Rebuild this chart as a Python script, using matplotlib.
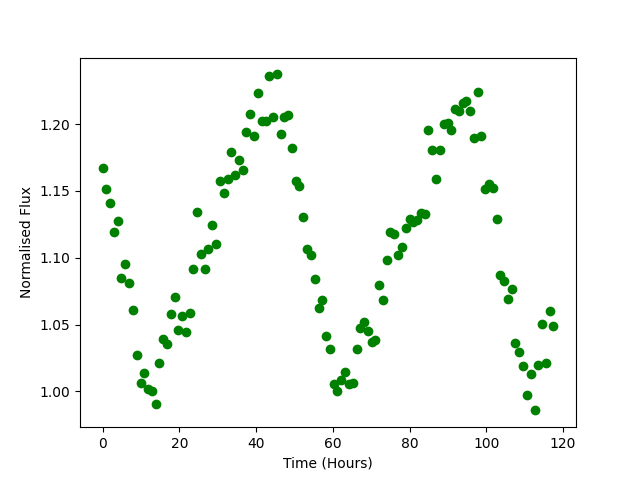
import matplotlib

matplotlib.use("Agg")
import matplotlib.pyplot as plt

# observation times in hours (roughly hourly cadence)
time_hours = [
    0.0, 1.0, 2.0, 3.0, 3.9, 4.9, 5.9, 6.9, 7.9, 8.9,
    9.9, 10.9, 11.8, 12.8, 13.8, 14.8, 15.8, 16.8, 17.8, 18.8,
    19.7, 20.7, 21.7, 22.7, 23.7, 24.7, 25.7, 26.7, 27.6, 28.6,
    29.6, 30.6, 31.6, 32.6, 33.6, 34.6, 35.5, 36.5, 37.5, 38.5,
    39.5, 40.5, 41.5, 42.5, 43.4, 44.4, 45.4, 46.4, 47.4, 48.4,
    49.4, 50.4, 51.3, 52.3, 53.3, 54.3, 55.3, 56.3, 57.3, 58.3,
    59.2, 60.2, 61.2, 62.2, 63.2, 64.2, 65.2, 66.2, 67.1, 68.1,
    69.1, 70.1, 71.1, 72.1, 73.1, 74.1, 75.0, 76.0, 77.0, 78.0,
    79.0, 80.0, 81.0, 82.0, 82.9, 83.9, 84.9, 85.9, 86.9, 87.9,
    88.9, 89.9, 90.8, 91.8, 92.8, 93.8, 94.8, 95.8, 96.8, 97.8,
    98.7, 99.7, 100.7, 101.7, 102.7, 103.7, 104.7, 105.7, 106.6, 107.6,
    108.6, 109.6, 110.6, 111.6, 112.6, 113.5, 114.5, 115.5, 116.5, 117.5,
]

flux = [
    1.1668, 1.1518, 1.1413, 1.1196, 1.1278, 1.0851, 1.0951, 1.0809, 1.0607, 1.0275,
    1.0065, 1.0140, 1.0020, 1.0003, 0.9908, 1.0215, 1.0392, 1.0357, 1.0582, 1.0709,
    1.0457, 1.0567, 1.0447, 1.0589, 1.0919, 1.1346, 1.1031, 1.0919, 1.1069, 1.1243,
    1.1101, 1.1571, 1.1488, 1.1588, 1.1788, 1.1616, 1.1735, 1.1660, 1.1938, 1.2072,
    1.1908, 1.2230, 1.2020, 1.2020, 1.2357, 1.2057, 1.2372, 1.1925, 1.2057, 1.2065,
    1.1818, 1.1573, 1.1538, 1.1308, 1.1064, 1.1024, 1.0844, 1.0627, 1.0682, 1.0417,
    1.0320, 1.0052, 1.0003, 1.0082, 1.0147, 1.0052, 1.0065, 1.0320, 1.0477, 1.0519,
    1.0454, 1.0369, 1.0387, 1.0799, 1.0687, 1.0981, 1.1191, 1.1178, 1.1024, 1.1079,
    1.1226, 1.1291, 1.1268, 1.1286, 1.1336, 1.1331, 1.1953, 1.1803, 1.1593, 1.1810,
    1.2003, 1.2005, 1.1953, 1.2110, 1.2100, 1.2160, 1.2175, 1.2098, 1.1893, 1.2237,
    1.1910, 1.1511, 1.1553, 1.1521, 1.1291, 1.0869, 1.0829, 1.0694, 1.0769, 1.0365,
    1.0295, 1.0187, 0.9970, 1.0132, 0.9858, 1.0200, 1.0507, 1.0215, 1.0599, 1.0492,
]


def main():
    plt.figure(figsize=(6.4, 4.8), dpi=100)
    plt.plot(time_hours, flux, "o", color="green")
    plt.xlabel("Time (Hours)")
    plt.ylabel("Normalised Flux")
    plt.savefig("out.png")
    plt.close()


if __name__ == "__main__":
    main()
